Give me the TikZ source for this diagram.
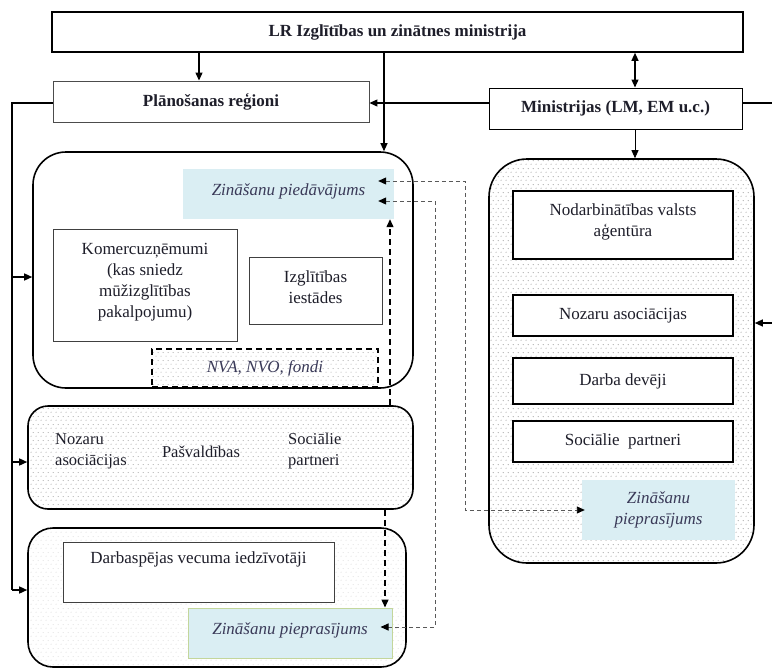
\documentclass[tikz,border=0pt]{standalone}
\usepackage{fontspec}
\setmainfont{Liberation Serif}
\usetikzlibrary{arrows.meta,patterns}

% staggered dot raster used for the shaded groups
\pgfdeclarepatternformonly{fdots}{\pgfqpoint{0pt}{0pt}}{\pgfqpoint{5pt}{8pt}}{\pgfqpoint{5pt}{8pt}}{%
  \pgfpathcircle{\pgfqpoint{1.25pt}{2pt}}{0.55pt}%
  \pgfpathcircle{\pgfqpoint{3.75pt}{6pt}}{0.55pt}%
  \pgfusepath{fill}}

\definecolor{offerblue}{HTML}{DAEEF3}
\definecolor{demgreen}{HTML}{C3D69B}
\definecolor{italtext}{HTML}{3A3A58}
\definecolor{txt}{HTML}{1E1E2A}

\begin{document}
\begin{tikzpicture}[x=1pt,y=-1pt,
  every node/.style={font=\fontsize{17}{21}\selectfont, text=txt, inner sep=2pt, align=center},
  boldtxt/.style={font=\fontsize{17}{21}\selectfont\bfseries},
  itxt/.style={font=\fontsize{17}{21}\selectfont\itshape, text=italtext},
  rect/.style={draw, rectangle, fill=white},
  group/.style={draw, rectangle, line width=1.6pt},
  dotted group/.style={group, pattern=fdots, pattern color=#1},
  bluebox/.style={rectangle, fill=offerblue, itxt},
  tipA/.style={-{Triangle[length=8pt,width=7pt]}},
  arr/.style={tipA, line width=1.2pt},
  dblarr/.style={{Triangle[length=8pt,width=7pt]}-{Triangle[length=8pt,width=7pt]}, line width=1.2pt},
  thickdash/.style={dash pattern=on 6pt off 4pt, line width=1.3pt, tipA},
  thindash/.style={dash pattern=on 4pt off 3pt, line width=0.9pt, draw=black!65,
    {Triangle[length=8pt,width=7pt,color=black]}-{Triangle[length=8pt,width=7pt,color=black]}},
]
\useasboundingbox (0,0) rectangle (772,670);

% ---- top level ----
\node[rect, line width=1.6pt, minimum width=691pt, minimum height=40pt, boldtxt] (top) at (397.5,32)
  {LR Izglītības un zinātnes ministrija};
\node[rect, draw=black!70, line width=0.9pt, minimum width=316pt, minimum height=41pt, boldtxt] (plan) at (211,101.5)
  {Plānošanas reģioni};
\node[rect, line width=1pt, minimum width=253pt, minimum height=41pt, boldtxt] (mins) at (615.5,108.5)
  {Ministrijas (LM, EM u.c.)};

% ---- supply side ----
\node[group, rounded corners=33pt, minimum width=380pt, minimum height=236pt] (box1) at (223,270) {};
\node[bluebox, minimum width=211pt, minimum height=50pt, text depth=8pt] (offer) at (288.5,194)
  {Zināšanu piedāvājums};
\node[rect, draw=black!75, line width=0.9pt, minimum width=184pt, minimum height=112pt, text depth=10pt] (kom) at (145,285)
  {Komercuzņēmumi\\(kas sniedz\\mūžizglītības\\pakalpojumu)};
\node[rect, draw=black!75, line width=0.9pt, minimum width=133pt, minimum height=67pt, text depth=6pt] (izgl) at (315.5,290.5)
  {Izglītības\\iestādes};
\node[draw, rectangle, line width=1.5pt, dash pattern=on 6pt off 4pt, pattern=fdots, pattern color=black!40,
  minimum width=226pt, minimum height=38pt, itxt] (nva) at (265,368) {NVA, NVO, fondi};

% ---- intermediaries ----
\node[dotted group=black!55, rounded corners=20pt, minimum width=385pt, minimum height=103pt] (box2) at (220.5,457.5) {};
\node[anchor=west, align=left, font=\fontsize{16.5}{21}\selectfont] (noz2) at (53,451) {Nozaru\\asociācijas};
\node[font=\fontsize{16.5}{21}\selectfont] (pasv) at (201,452) {Pašvaldības};
\node[anchor=west, align=left, font=\fontsize{16.5}{21}\selectfont] (soc2) at (286,451) {Sociālie\\partneri};

% ---- demand side ----
\node[dotted group=black!22, rounded corners=25pt, minimum width=378pt, minimum height=139pt] (box3) at (217,597.5) {};
\node[rect, draw=black!75, line width=1pt, minimum width=271pt, minimum height=60pt, anchor=north,
  text height=12pt, text depth=30pt] (darb) at (198.5,542)
  {Darbaspējas vecuma iedzīvotāji};
\node[bluebox, draw=demgreen, line width=1pt, minimum width=204pt, minimum height=50pt, text depth=8pt] (dem) at (290,633)
  {Zināšanu pieprasījums};

% ---- labour market institutions ----
\node[dotted group=black!60, rounded corners=38pt, minimum width=265pt, minimum height=404pt] (rbox) at (621.5,361) {};
\node[rect, line width=1.6pt, minimum width=220pt, minimum height=68pt, text depth=10pt] (agency) at (623,225)
  {Nodarbinātības valsts\\aģentūra};
\node[rect, line width=1.6pt, minimum width=220pt, minimum height=41pt] (noz) at (623,315.5) {Nozaru asociācijas};
\node[rect, line width=1.6pt, minimum width=220pt, minimum height=46pt] (dd) at (623,381) {Darba devēji};
\node[rect, line width=1.6pt, minimum width=220pt, minimum height=41pt] (sp) at (623,441.5) {Sociālie\ \ partneri};
\node[bluebox, minimum width=153pt, minimum height=60pt] (rdem) at (658.5,510) {Zināšanu\\pieprasījums};

% ---- helper coordinates ----
\coordinate (x199) at (199,0);
\coordinate (x384) at (384,0);
\coordinate (x635) at (635,0);
\coordinate (x390) at (390,0);
\coordinate (x385) at (385,0);
\coordinate (y103) at (0,103);
\coordinate (y277) at (0,277);
\coordinate (y462) at (0,462);
\coordinate (y590) at (0,590);
\coordinate (spine) at (12,103);
\coordinate (edgeA) at (772,103);
\coordinate (edgeB) at (772,323);
\coordinate (bendA) at (465,181);
\coordinate (bendB) at (465,510);
\coordinate (bendC) at (435,201);
\coordinate (bendD) at (435,627);
\path (offer.east |- bendA) ++(-16,0) coordinate (offA);
\path (offer.east |- bendC) ++(-16,0) coordinate (offC);
\path (rdem.west |- bendB) ++(3,0) coordinate (rdemB);
\path (dem.east |- bendD) ++(-12,0) coordinate (demD);

% ---- solid connectors ----
\draw[arr] (top.south -| x199) -- (plan.north -| x199);
\draw[arr] (top.south -| x384) -- (box1.north -| x384);
\draw[dblarr] (top.south -| x635) -- (mins.north -| x635);
\draw[arr] (mins.west |- y103) -- (plan.east |- y103);
\draw[line width=1.2pt] (mins.east |- y103) -- (edgeA);
\draw[arr, line width=0.9pt] (mins.south -| x635) -- (rbox.north -| x635);
\draw[arr] (edgeB) -- (rbox.east |- edgeB);
\draw[line width=1.4pt] (plan.west |- y103) -- (spine) -- (spine |- y590);
\draw[arr, line width=1.4pt] (spine |- y277) -- (box1.west |- y277);
\draw[arr, line width=1.4pt] (spine |- y462) -- (box2.west |- y462);
\draw[arr, line width=1.4pt] (spine |- y590) -- (box3.west |- y590);

% ---- dashed flows ----
\draw[thickdash] (box2.north -| x390) -- (offer.south -| x390);
\draw[thickdash] (box2.south -| x385) -- (dem.north -| x385);
\draw[thindash] (offA) -- (bendA) -- (bendB) -- (rdemB);
\draw[thindash] (offC) -- (bendC) -- (bendD) -- (demD);
\end{tikzpicture}
\end{document}
